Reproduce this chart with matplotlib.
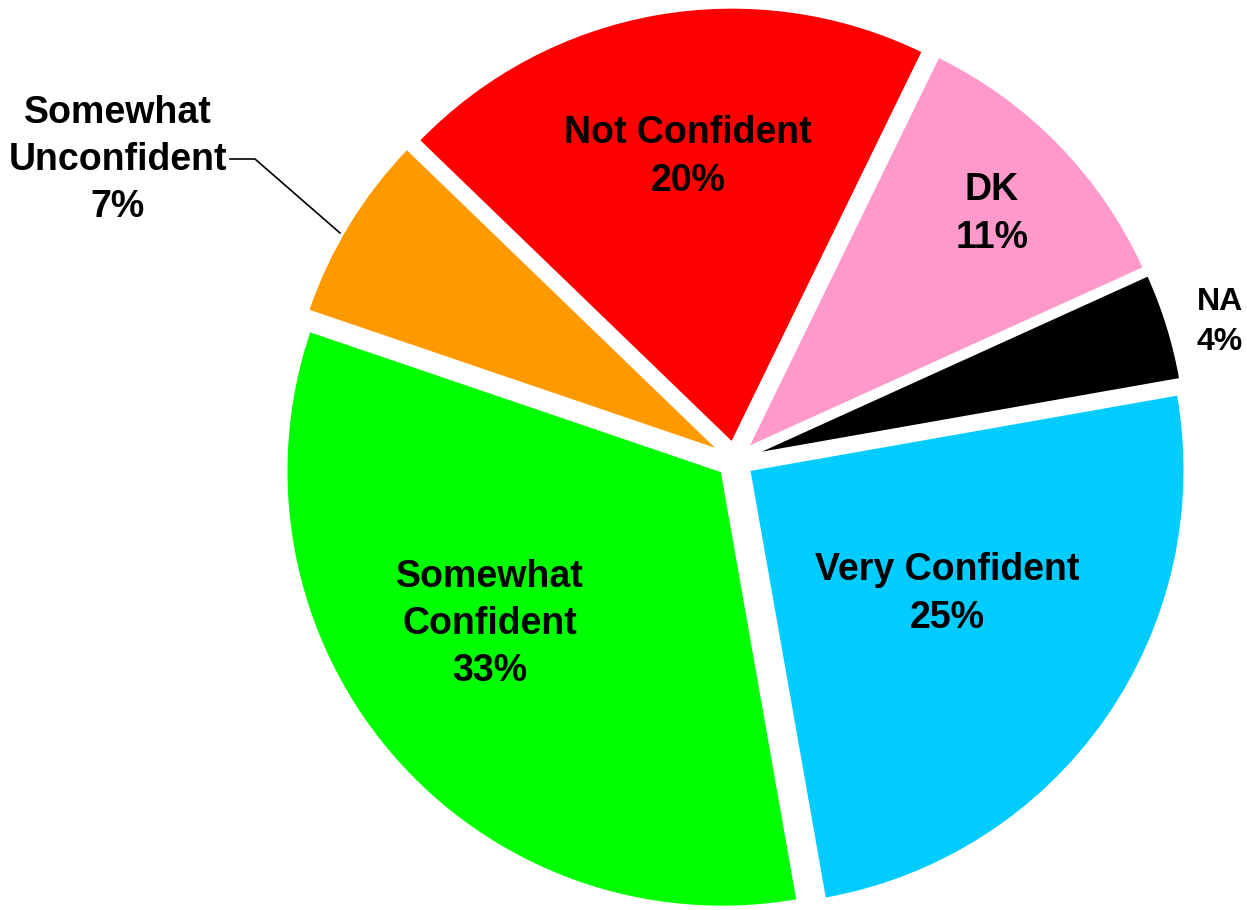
import matplotlib.pyplot as plt

categories = ['Very Confident', 'Somewhat Confident', 'Somewhat Unconfident',
              'Not Confident', 'DK', 'NA']
values = [25, 33, 7, 20, 11, 4]
label_text = ['Very Confident\n25%', 'Somewhat\nConfident\n33%',
              'Somewhat\nUnconfident\n7%', 'Not Confident\n20%', 'DK\n11%', 'NA\n4%']
colors = ['#00CCFF', '#00FF00', '#FF9900', '#FF0000', '#FF99CC', '#000000']

plt.rcParams['font.family'] = ['Liberation Sans', 'DejaVu Sans']

fig = plt.figure(figsize=(12.47, 9.10), dpi=100)
ax = fig.add_axes([0, 0, 1, 1])

# pixel coords, y flipped from image
cx, cy, r = 735, 910 - 460, 436
wedges, _ = ax.pie(values, colors=colors, startangle=10, counterclock=False,
                   explode=[17] * len(values), center=(cx, cy), radius=r,
                   wedgeprops=dict(linewidth=2, edgecolor='white'))
ax.set_xlim(0, 1247)
ax.set_ylim(0, 910)
ax.set_aspect('equal')
ax.axis('off')

# label positions (image px)
pos = [(947, 594), (490, 624), (118, 160), (688, 157), (992, 214), (1220, 322)]
sizes = [27, 27, 27, 27, 27, 23]
for txt, (x, y), fs in zip(label_text, pos, sizes):
    ax.text(x, 910 - y, txt, ha='center', va='center', fontsize=fs,
            fontweight='bold', linespacing=1.4)

# leader line for Somewhat Unconfident
ax.plot([230, 255, 340], [910 - 159, 910 - 159, 910 - 233], color='black', lw=1.2)

fig.savefig('out.png', dpi=100)
